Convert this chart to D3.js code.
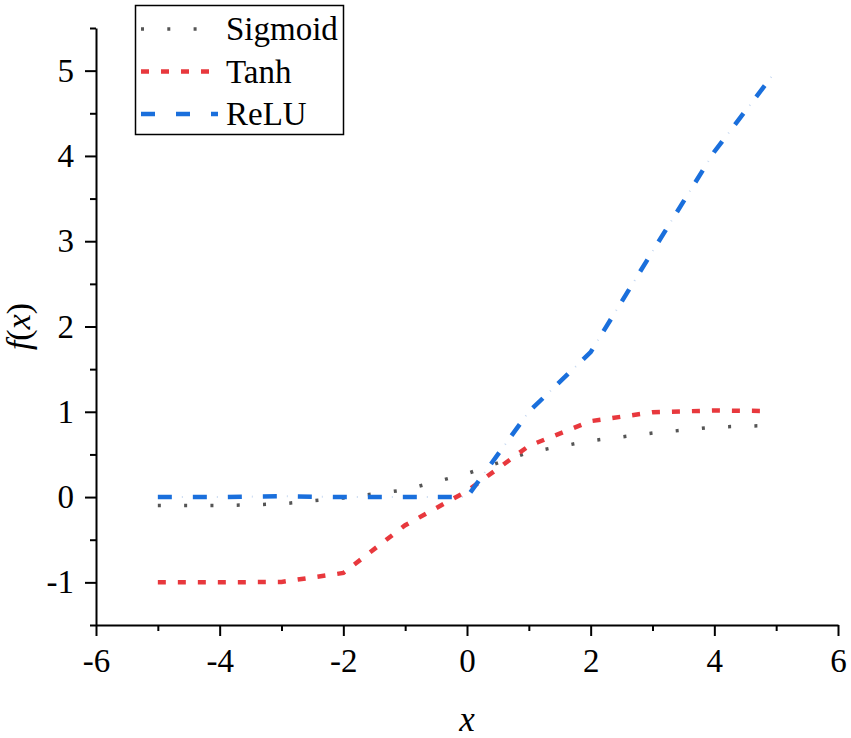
<!DOCTYPE html>
<html>
<head>
<meta charset="utf-8">
<script src="https://cdn.jsdelivr.net/npm/d3@7"></script>
<style>
  body { margin: 0; background: #fff; }
  svg { display: block; }
  .axis path, .axis line { stroke: #000; stroke-width: 2px; }
</style>
</head>
<body>
<svg id="chart" width="851" height="738"></svg>
<script>
// values
var xs = [-5, -4, -3, -2, -1, 0, 1, 2, 3, 4, 4.8];
var xsRelu = [-5, -4, -3, -2, -1, 0, 1, 2, 3, 4, 5];
var sigmoid = [-0.1, -0.1, -0.08, -0.01, 0.085, 0.275, 0.525, 0.66, 0.75, 0.82, 0.838];
var tanh = [-1.0, -1.0, -0.995, -0.89, -0.33, 0.07, 0.6, 0.89, 0.995, 1.015, 1.01];
var relu = [0, 0, 0.01, 0, 0, 0, 1.0, 1.7, 2.88, 4.05, 5.0];
var names = ["Sigmoid", "Tanh", "ReLU"];
var xTicks = [-6, -4, -2, 0, 2, 4, 6];
var yTicks = [-1, 0, 1, 2, 3, 4, 5];

var serif = "'Liberation Serif', 'Times New Roman', Times, serif";
var svg = d3.select("#chart");
var mLeft = 96, mRight = 838, mTop = 28, mBottom = 625;

var x = d3.scaleLinear().domain([-6, 6]).range([mLeft, mRight]);
var y = d3.scaleLinear().domain([-1.5, 5.5]).range([mBottom, mTop]);

// minor ticks first, then major
svg.append("g").attr("class", "axis")
  .attr("transform", "translate(0," + mBottom + ")")
  .call(d3.axisBottom(x).tickValues(d3.range(-5, 6, 2)).tickSize(6).tickFormat(""))
  .select(".domain").remove();
svg.append("g").attr("class", "axis")
  .attr("transform", "translate(0," + mBottom + ")")
  .call(d3.axisBottom(x).tickValues(xTicks).tickSize(11).tickSizeOuter(0).tickPadding(13).tickFormat(d3.format("d")));

svg.append("g").attr("class", "axis")
  .attr("transform", "translate(" + mLeft + ",0)")
  .call(d3.axisLeft(y).tickValues(d3.range(-1.5, 5.6, 1)).tickSize(6).tickFormat(""))
  .select(".domain").remove();
svg.append("g").attr("class", "axis")
  .attr("transform", "translate(" + mLeft + ",0)")
  .call(d3.axisLeft(y).tickValues(yTicks).tickSize(11).tickSizeOuter(0).tickPadding(11).tickFormat(d3.format("d")));

svg.selectAll(".axis").attr("font-family", serif).attr("font-size", 33);
svg.selectAll(".axis text")
  .attr("fill", "#000")
  .text(function () { return this.textContent.replace("−", "-"); });

// axis titles
svg.append("text")
  .attr("x", x(0)).attr("y", 731)
  .attr("text-anchor", "middle")
  .attr("font-family", serif).attr("font-size", 35).attr("font-style", "italic")
  .text("x");
var yl = svg.append("text")
  .attr("transform", "translate(30," + y(2) + ") rotate(-90)")
  .attr("text-anchor", "middle")
  .attr("font-family", serif).attr("font-size", 34);
yl.append("tspan").attr("font-style", "italic").text("f");
yl.append("tspan").text("(");
yl.append("tspan").attr("font-style", "italic").text("x");
yl.append("tspan").text(")");

var line = d3.line()
  .x(function (d) { return x(d[0]); })
  .y(function (d) { return y(d[1]); });

var sigPts = d3.zip(xs, sigmoid);
var tanhPts = d3.zip(xs, tanh);
var reluPts = d3.zip(xsRelu, relu);

svg.append("path") // Sigmoid
  .attr("d", line(sigPts))
  .attr("fill", "none").attr("stroke", "#555")
  .attr("stroke-width", 3.5).attr("stroke-dasharray", "3,23.3");

svg.append("path") // Tanh
  .attr("d", line(tanhPts))
  .attr("fill", "none").attr("stroke", "#e8383d")
  .attr("stroke-width", 4.5).attr("stroke-dasharray", "8,12");

svg.append("path") // ReLU faint dots
  .attr("d", line(reluPts))
  .attr("fill", "none").attr("stroke", "#c8d9f0")
  .attr("stroke-width", 2).attr("stroke-dasharray", "1,34").attr("stroke-dashoffset", -24);
svg.append("path") // ReLU
  .attr("d", line(reluPts))
  .attr("fill", "none").attr("stroke", "#1a6fdc")
  .attr("stroke-width", 4.5).attr("stroke-dasharray", "14,21");

// legend
var legend = svg.append("g");
legend.append("rect")
  .attr("x", 135.5).attr("y", 5.5).attr("width", 208).attr("height", 129)
  .attr("fill", "#fff").attr("stroke", "#000").attr("stroke-width", 1.5);

var styles = [
  { c: "#555", w: 3.5, dash: "3,23.3" },
  { c: "#e8383d", w: 4.5, dash: "8,12" },
  { c: "#1a6fdc", w: 4.5, dash: "14,21" }
];
names.forEach(function (n, i) {
  var ly = 29 + i * 42.5;
  legend.append("line")
    .attr("x1", 141).attr("x2", 218).attr("y1", ly).attr("y2", ly)
    .attr("stroke", styles[i].c).attr("stroke-width", styles[i].w)
    .attr("stroke-dasharray", styles[i].dash);
  legend.append("text")
    .attr("x", 226).attr("y", ly + 11)
    .attr("font-family", serif).attr("font-size", 33)
    .text(n);
});
</script>
</body>
</html>
